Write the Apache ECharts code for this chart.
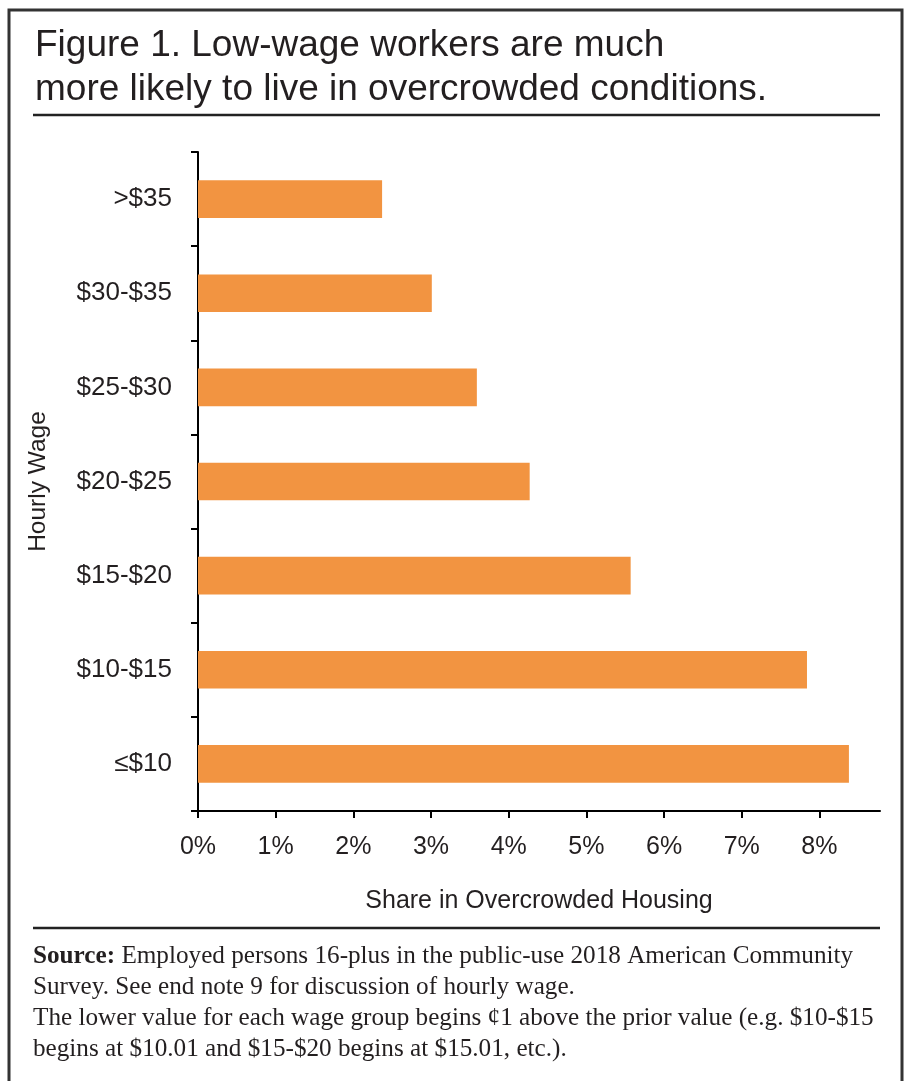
<!DOCTYPE html>
<html>
<head>
<meta charset="utf-8">
<title>Figure 1. Low-wage workers and overcrowding</title>
<script src="https://cdn.jsdelivr.net/npm/echarts@6/dist/echarts.min.js"></script>
<style>
  html, body { margin: 0; padding: 0; background: #ffffff; }
  #chart { width: 907px; height: 1081px; }
</style>
</head>
<body>
<div id="chart"></div>
<script>
// Wage groups, listed top to bottom as drawn
const wageGroups = ['>$35', '$30-$35', '$25-$30', '$20-$25', '$15-$20', '$10-$15', '≤$10'];
// Share of employed persons in overcrowded housing (%)
const overcrowdedShare = [2.37, 3.01, 3.59, 4.27, 5.57, 7.84, 8.38];
// Ticks shown on the share axis (%)
const shareTicks = [0, 1, 2, 3, 4, 5, 6, 7, 8];

const titleLines = [
  'Figure 1. Low-wage workers are much',
  'more likely to live in overcrowded conditions.'
];
const sourceLines = [
  '{b|Source:} Employed persons 16-plus in the public-use 2018 American Community',
  'Survey. See end note 9 for discussion of hourly wage.',
  'The lower value for each wage group begins ¢1 above the prior value (e.g. $10-$15',
  'begins at $10.01 and $15-$20 begins at $15.01, etc.).'
];

const ink = '#231f20';
const sansFont = '"Liberation Sans", Arial, Helvetica, sans-serif';
const serifFont = '"Liberation Serif", "Times New Roman", serif';
const noteSize = 25.2;

const chart = echarts.init(document.getElementById('chart'), null, { renderer: 'canvas' });

const footnoteText = sourceLines.map((line, i) => ({
  type: 'text',
  left: 33,
  top: 941 + i * 31,
  style: {
    text: line,
    fill: ink,
    fontFamily: serifFont,
    fontSize: noteSize,
    lineHeight: 31,
    rich: {
      b: { fontWeight: 'bold', fontFamily: serifFont, fontSize: noteSize, lineHeight: 31, fill: ink }
    }
  }
}));

chart.setOption({
  backgroundColor: '#ffffff',
  animation: false,
  title: {
    text: titleLines.join('\n'),
    left: 30,
    top: 19,
    textStyle: {
      fontFamily: sansFont,
      fontSize: 37,
      fontWeight: 'normal',
      color: ink,
      lineHeight: 44
    }
  },
  grid: {
    left: 198,
    right: 27,
    top: 152,
    bottom: 270,
    containLabel: false
  },
  xAxis: {
    type: 'value',
    min: 0,
    max: 8.78,
    interval: 1,
    name: 'Share in Overcrowded Housing',
    nameLocation: 'middle',
    nameGap: 78,
    nameTextStyle: { fontFamily: sansFont, fontSize: 25, color: ink },
    axisLine: { show: true, lineStyle: { color: '#000', width: 2 } },
    axisTick: { show: true, length: 7, customValues: shareTicks, lineStyle: { color: '#000', width: 2 } },
    axisLabel: {
      customValues: shareTicks,
      margin: 24,
      fontFamily: sansFont,
      fontSize: 25,
      color: ink,
      formatter: v => v + '%'
    },
    splitLine: { show: false }
  },
  yAxis: {
    type: 'category',
    data: wageGroups,
    inverse: true,
    name: 'Hourly Wage',
    nameLocation: 'middle',
    nameGap: 147,
    nameRotate: 90,
    nameTextStyle: { fontFamily: sansFont, fontSize: 24.5, color: ink },
    axisLine: { show: true, lineStyle: { color: '#000', width: 2 } },
    axisTick: { show: true, length: 7, alignWithLabel: false, lineStyle: { color: '#000', width: 2 } },
    axisLabel: {
      margin: 26,
      fontFamily: sansFont,
      fontSize: 26,
      color: ink
    },
    splitLine: { show: false }
  },
  series: [{
    type: 'bar',
    data: overcrowdedShare,
    barWidth: '40%',
    itemStyle: { color: '#F29441' },
    silent: true
  }],
  graphic: [
    {
      type: 'rect',
      shape: { x: 9, y: 10, width: 893, height: 1090 },
      style: { fill: 'none', stroke: '#333', lineWidth: 3 },
      silent: true
    },
    {
      type: 'line',
      shape: { x1: 33, y1: 115, x2: 880, y2: 115 },
      style: { stroke: '#222', lineWidth: 2.5 },
      silent: true
    },
    {
      type: 'line',
      shape: { x1: 33, y1: 928, x2: 880, y2: 928 },
      style: { stroke: '#222', lineWidth: 2.5 },
      silent: true
    }
  ].concat(footnoteText)
});
</script>
</body>
</html>
